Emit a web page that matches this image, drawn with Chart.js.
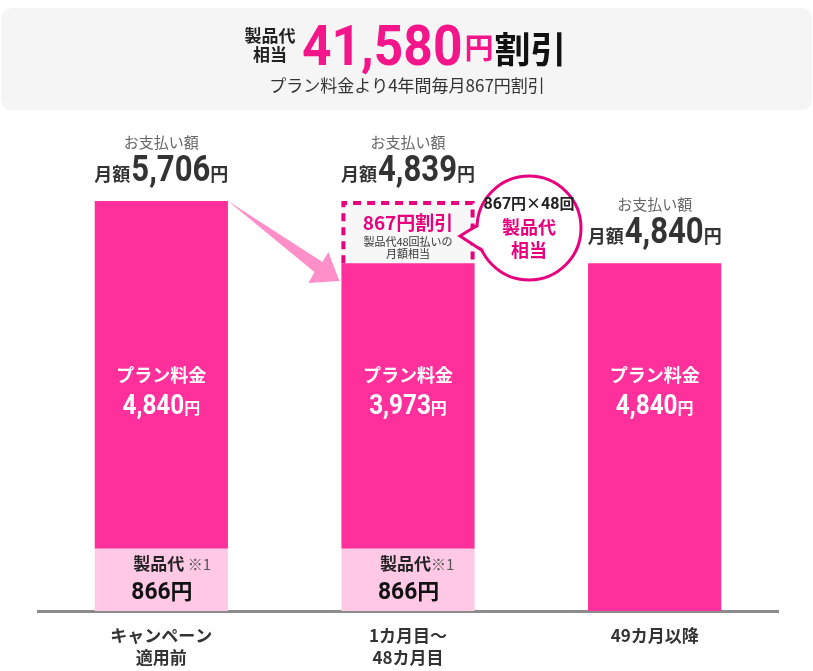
<!DOCTYPE html>
<html>
<head>
<meta charset="utf-8">
<script src="https://cdn.jsdelivr.net/npm/chart.js@4.4.1/dist/chart.umd.min.js"></script>
<style>
  html, body { margin: 0; padding: 0; background: #ffffff; }
  #wrap { width: 813px; height: 671px; position: relative; }
</style>
</head>
<body>
<div id="wrap"><canvas id="c" width="813" height="671"></canvas></div>
<script>
// ---- data ----
const categories = [['キャンペーン', '適用前'], ['1カ月目〜', '48カ月目'], '49カ月以降'];
const deviceFee = [866, 866, 0];          // 製品代
const planFee = [4840, 3973, 4840];       // プラン料金
const productDiscount = [0, 867, 0];      // 867円割引 (製品代相当)
const monthlyTotals = [5706, 4839, 4840]; // お支払い額
const headerDiscount = '41,580';
const monthlyDiscount = 867;
const installments = 48;
const yMax = 5706;

const JP = '"Noto Sans CJK JP", "Noto Sans", sans-serif';
const NUM = 'Roboto, "Noto Sans", sans-serif';
const PINK = '#ff2f9b';
const LIGHT_PINK = '#ffc9e6';
const MAGENTA = '#e6007e';
const HEAD_PINK = '#f2168a';

function fmt(n) { return n.toLocaleString('en-US'); }

// draw a run of text parts on one baseline
function drawParts(ctx, parts, x, y, align) {
  ctx.save();
  ctx.textBaseline = 'alphabetic';
  ctx.textAlign = 'left';
  let total = 0;
  parts.forEach(p => { ctx.font = p.font; p.w = ctx.measureText(p.t).width * (p.sx || 1) + (p.gap || 0); total += p.w; });
  let cx = align === 'left' ? x : x - total / 2;
  parts.forEach(p => {
    ctx.font = p.font;
    ctx.fillStyle = p.color;
    ctx.save();
    ctx.translate(cx + (p.gap || 0), y + (p.dy || 0));
    ctx.scale(p.sx || 1, 1);
    ctx.fillText(p.t, 0, 0);
    ctx.restore();
    cx += p.w;
  });
  ctx.restore();
}
function text(ctx, t, x, y, font, color, align) {
  ctx.save();
  ctx.font = font; ctx.fillStyle = color;
  ctx.textAlign = align || 'center'; ctx.textBaseline = 'middle';
  ctx.fillText(t, x, y);
  ctx.restore();
}

const decor = {
  id: 'decor',
  beforeDraw(chart) {
    const ctx = chart.ctx;
    // header box
    ctx.save();
    ctx.fillStyle = '#f5f5f5';
    ctx.beginPath();
    ctx.roundRect(1, 8, 811, 102, 10);
    ctx.fill();
    ctx.restore();
    text(ctx, '製品代', 270, 36, 'bold 17px ' + JP, '#222');
    text(ctx, '相当', 270, 55, 'bold 17px ' + JP, '#222');
    drawParts(ctx, [
      { t: headerDiscount, font: 'bold 56px ' + NUM, color: HEAD_PINK, sx: 0.92 },
      { t: '円', font: 'bold 29px ' + JP, color: HEAD_PINK, gap: 2, dy: -6 },
      { t: '割引', font: 'bold 36px ' + JP, color: '#111', gap: 1, dy: -2 }
    ], 302, 65, 'left');
    text(ctx, 'プラン料金より4年間毎月' + monthlyDiscount + '円割引', 407, 86, '17px ' + JP, '#333');
  },
  afterDatasetsDraw(chart) {
    const ctx = chart.ctx;
    const y = chart.scales.y;
    const area = chart.chartArea;
    const dev = chart.getDatasetMeta(0).data;
    const plan = chart.getDatasetMeta(1).data;
    const disc = chart.getDatasetMeta(2).data;

    // dashed border of discount box
    const d = disc[1];
    const dl = d.x - d.width / 2, dr = d.x + d.width / 2, dt = d.y, db = d.base;
    ctx.save();
    ctx.strokeStyle = MAGENTA; ctx.lineWidth = 4; ctx.setLineDash([8, 6]);
    ctx.beginPath();
    ctx.moveTo(dl + 2, db); ctx.lineTo(dl + 2, dt + 2); ctx.lineTo(dr - 2, dt + 2); ctx.lineTo(dr - 2, db);
    ctx.stroke();
    ctx.restore();
    text(ctx, monthlyDiscount + '円割引', d.x, dt + 22, 'bold 19px ' + JP, MAGENTA);
    text(ctx, '製品代' + installments + '回払いの', d.x, dt + 41, '11px ' + JP, '#333');
    text(ctx, '月額相当', d.x, dt + 53, '11px ' + JP, '#333');

    // arrow from bar 1 to bar 2
    const b1 = plan[0];
    const sx = b1.x + b1.width / 2, sy = b1.y;
    const tx = d.x - d.width / 2;
    ctx.save();
    ctx.fillStyle = '#ff8fc9';
    ctx.beginPath();
    ctx.moveTo(sx, sy);
    ctx.lineTo(tx - 19, sy + 61);
    ctx.lineTo(tx - 13, sy + 51);
    ctx.lineTo(tx - 2, sy + 80);
    ctx.lineTo(tx - 33, sy + 82);
    ctx.lineTo(tx - 27, sy + 71);
    ctx.closePath();
    ctx.fill();
    ctx.restore();

    // speech bubble
    const bx = d.x + 121, by = dt + 27, r = 52;
    ctx.save();
    ctx.fillStyle = '#fff'; ctx.strokeStyle = MAGENTA; ctx.lineWidth = 3;
    ctx.beginPath(); ctx.arc(bx, by, r, 0, Math.PI * 2); ctx.fill(); ctx.stroke();
    const tipX = bx - 69, tipY = by + 8;
    const q1 = [bx + r * Math.cos(Math.PI + 0.05), by + r * Math.sin(Math.PI + 0.05)];
    const q2 = [bx + r * Math.cos(Math.PI - 0.45), by + r * Math.sin(Math.PI - 0.45)];
    ctx.beginPath();
    ctx.moveTo(q1[0] + 4, q1[1]); ctx.lineTo(tipX, tipY); ctx.lineTo(q2[0] + 4, q2[1]); ctx.closePath();
    ctx.fill();
    ctx.beginPath();
    ctx.moveTo(q1[0], q1[1]); ctx.lineTo(tipX, tipY); ctx.lineTo(q2[0], q2[1]);
    ctx.stroke();
    ctx.restore();
    drawParts(ctx, [
      { t: String(monthlyDiscount), font: 'bold 16px ' + NUM, color: '#222' },
      { t: '円×', font: 'bold 15px ' + JP, color: '#222' },
      { t: String(installments), font: 'bold 16px ' + NUM, color: '#222' },
      { t: '回', font: 'bold 15px ' + JP, color: '#222' }
    ], bx, by - 19, 'center');
    text(ctx, '製品代', bx, by - 1, 'bold 18px ' + JP, MAGENTA);
    text(ctx, '相当', bx, by + 22, 'bold 18px ' + JP, MAGENTA);

    // labels per bar
    const midY = area.top + (area.bottom - area.top) * 0.46;
    for (let i = 0; i < categories.length; i++) {
      const bar = plan[i];
      const top = y.getPixelForValue(deviceFee[i] + planFee[i] + productDiscount[i]);
      text(ctx, 'お支払い額', bar.x, top - 59, '15px ' + JP, '#666');
      drawParts(ctx, [
        { t: '月額', font: 'bold 18px ' + JP, color: '#333' },
        { t: fmt(monthlyTotals[i]), font: 'bold 37px ' + NUM, color: '#333', sx: 0.84, gap: 1 },
        { t: '円', font: 'bold 18px ' + JP, color: '#333' }
      ], bar.x, top - 20, 'center');

      text(ctx, 'プラン料金', bar.x, midY - 14, 'bold 18px ' + JP, '#fff');
      drawParts(ctx, [
        { t: fmt(planFee[i]), font: 'bold 27px ' + NUM, color: '#fff', sx: 0.9 },
        { t: '円', font: 'bold 16px ' + JP, color: '#fff' }
      ], bar.x, midY + 24, 'center');

      if (deviceFee[i] > 0) {
        const dv = dev[i];
        const lx = dv.x - 28;
        drawParts(ctx, [
          { t: '製品代', font: 'bold 17px ' + JP, color: '#222' },
          { t: (i === 0 ? ' ' : '') + '※1', font: '15px ' + JP, color: '#555' }
        ], lx, area.bottom - 41, 'left');
        drawParts(ctx, [
          { t: String(deviceFee[i]), font: 'bold 24px ' + NUM, color: '#111', sx: 0.95 },
          { t: '円', font: 'bold 22px ' + JP, color: '#111' }
        ], lx - 2, area.bottom - 12, 'left');
      }
    }
  }
};

new Chart(document.getElementById('c'), {
  type: 'bar',
  data: {
    labels: categories,
    datasets: [
      { label: '製品代', data: deviceFee, backgroundColor: LIGHT_PINK },
      { label: 'プラン料金', data: planFee, backgroundColor: PINK },
      { label: '製品代相当割引', data: productDiscount, backgroundColor: '#f7f7f7' }
    ]
  },
  options: {
    responsive: false,
    animation: false,
    devicePixelRatio: 1,
    layout: { padding: { left: 38, right: 35, top: 201, bottom: 0 } },
    datasets: { bar: { categoryPercentage: 1, barPercentage: 0.54, borderWidth: 0 } },
    plugins: { legend: { display: false }, tooltip: { enabled: false }, title: { display: false } },
    scales: {
      x: {
        stacked: true,
        grid: { display: false, drawTicks: false },
        border: { display: true, color: '#8c8c8c', width: 3 },
        ticks: { color: '#333', font: { family: JP, size: 17, weight: 'bold', lineHeight: 1.3 }, padding: 13, maxRotation: 0 },
        afterFit(axis) { axis.height = 60; }
      },
      y: { stacked: true, display: false, min: 0, max: yMax }
    }
  },
  plugins: [decor]
});
</script>
</body>
</html>
